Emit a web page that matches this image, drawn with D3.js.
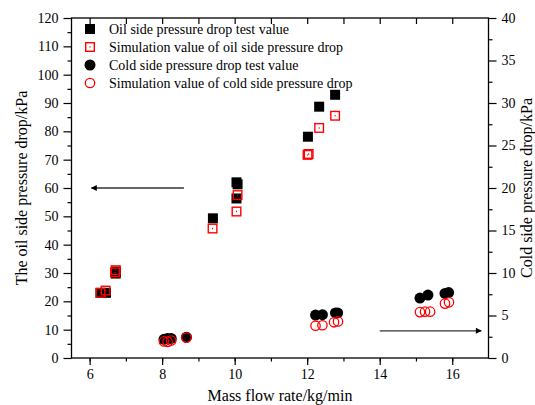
<!DOCTYPE html>
<html>
<head>
<meta charset="utf-8">
<script src="https://cdn.jsdelivr.net/npm/d3@7"></script>
<style>
  body { margin: 0; background: #fff; }
  svg text { font-family: "Liberation Serif", "Times New Roman", serif; fill: #000; }
</style>
</head>
<body>
<div id="vis"></div>
<script>
// data
var oilTestX = [6.30, 6.45, 6.72, 6.72, 9.40, 10.05, 10.08, 10.05, 12.02, 12.33, 12.77];
var oilTestY = [23.0, 23.0, 29.8, 30.5, 49.3, 62.0, 61.3, 56.3, 78.1, 88.7, 92.9];
var oilSimX = [6.30, 6.44, 6.72, 6.70, 9.39, 10.08, 10.05, 12.01, 12.04, 12.33, 12.77];
var oilSimY = [23.0, 23.8, 31.0, 30.2, 45.7, 57.5, 51.7, 71.7, 72.0, 81.2, 85.5];
var coldTestX = [8.05, 8.15, 8.25, 8.67, 12.23, 12.42, 12.78, 12.84, 15.11, 15.33, 15.80, 15.90];
var coldTestY = [2.20, 2.30, 2.30, 2.45, 5.05, 5.10, 5.30, 5.30, 7.05, 7.40, 7.60, 7.70];
var coldSimX = [8.05, 8.15, 8.25, 8.67, 12.23, 12.42, 12.74, 12.85, 15.11, 15.25, 15.39, 15.80, 15.91];
var coldSimY = [1.95, 1.90, 2.05, 2.40, 3.80, 3.85, 4.20, 4.30, 5.40, 5.45, 5.45, 6.40, 6.55];

var legendLabels = [
  'Oil side pressure drop test value',
  'Simulation value of oil side pressure drop',
  'Cold side pressure drop test value',
  'Simulation value of cold side pressure drop'
];
var xTicks = [6, 8, 10, 12, 14, 16];
var xMinorTicks = d3.range(6, 17, 1);
var yLeftTicks = d3.range(0, 121, 10);
var yLeftMinor = d3.range(5, 120, 10);
var yRightTicks = d3.range(0, 41, 5);
var yRightMinor = d3.range(2.5, 40, 5);

var width = 535, height = 405;
var margin = { top: 18, left: 71.5, bottom: 47, right: 46.5 };

var svg = d3.select('#vis').append('svg')
  .attr('width', width)
  .attr('height', height);

var x = d3.scaleLinear().domain([5.5, 17]).range([margin.left, width - margin.right]);
var yL = d3.scaleLinear().domain([0, 120]).range([height - margin.bottom, margin.top]);
var yR = d3.scaleLinear().domain([0, 40]).range([height - margin.bottom, margin.top]);

var x0 = x.range()[0], x1 = x.range()[1];
var y0 = yL.range()[0], y1 = yL.range()[1];

// axes
function styleAxis(g) {
  g.selectAll('.domain').remove();
  g.selectAll('line').attr('stroke', '#000').attr('stroke-width', 1.2);
  g.selectAll('text').attr('font-size', 14);
}

// bottom
svg.append('g').attr('transform', 'translate(0,' + y0 + ')')
  .call(d3.axisBottom(x).tickValues(xMinorTicks).tickSize(3.5).tickFormat(''))
  .call(styleAxis);
svg.append('g').attr('transform', 'translate(0,' + y0 + ')')
  .call(d3.axisBottom(x).tickValues(xTicks).tickSize(7).tickPadding(4).tickFormat(d3.format('d')))
  .call(styleAxis);
// top, inward
svg.append('g').attr('transform', 'translate(0,' + y1 + ')')
  .call(d3.axisBottom(x).tickValues(xMinorTicks).tickSize(6).tickFormat(''))
  .call(styleAxis);
// left
svg.append('g').attr('transform', 'translate(' + x0 + ',0)')
  .call(d3.axisLeft(yL).tickValues(yLeftMinor).tickSize(4).tickFormat(''))
  .call(styleAxis);
svg.append('g').attr('transform', 'translate(' + x0 + ',0)')
  .call(d3.axisLeft(yL).tickValues(yLeftTicks).tickSize(8).tickPadding(5).tickFormat(d3.format('d')))
  .call(styleAxis);
// right
svg.append('g').attr('transform', 'translate(' + x1 + ',0)')
  .call(d3.axisRight(yR).tickValues(yRightMinor).tickSize(4).tickFormat(''))
  .call(styleAxis);
svg.append('g').attr('transform', 'translate(' + x1 + ',0)')
  .call(d3.axisRight(yR).tickValues(yRightTicks).tickSize(8).tickPadding(5).tickFormat(d3.format('d')))
  .call(styleAxis);

// frame
svg.append('rect')
  .attr('x', x0).attr('y', y1)
  .attr('width', x1 - x0).attr('height', y0 - y1)
  .attr('fill', 'none').attr('stroke', '#000').attr('stroke-width', 1.3);

// axis titles
svg.append('text')
  .attr('x', (x0 + x1) / 2).attr('y', 401)
  .attr('text-anchor', 'middle').attr('font-size', 16)
  .text('Mass flow rate/kg/min');
svg.append('text')
  .attr('transform', 'translate(27,' + ((y0 + y1) / 2) + ') rotate(-90)')
  .attr('text-anchor', 'middle').attr('font-size', 16)
  .text('The oil side pressure drop/kPa');
svg.append('text')
  .attr('transform', 'translate(532,' + ((y0 + y1) / 2) + ') rotate(-90)')
  .attr('text-anchor', 'middle').attr('font-size', 16)
  .text('Cold side pressure drop/kPa');

// arrows
var defs = svg.append('defs');
defs.append('marker')
  .attr('id', 'head')
  .attr('viewBox', '0 0 10 10')
  .attr('refX', 9).attr('refY', 5)
  .attr('markerWidth', 9).attr('markerHeight', 6)
  .attr('markerUnits', 'userSpaceOnUse')
  .attr('orient', 'auto')
  .append('path').attr('d', 'M0,0 L10,5 L0,10 z').attr('fill', '#000');

svg.append('line')
  .attr('x1', x(8.6)).attr('y1', yL(60))
  .attr('x2', x(6.05)).attr('y2', yL(60))
  .attr('stroke', '#333').attr('stroke-width', 1.3)
  .attr('marker-end', 'url(#head)');
svg.append('line')
  .attr('x1', x(14.0)).attr('y1', yR(3.2))
  .attr('x2', x(16.8)).attr('y2', yR(3.2))
  .attr('stroke', '#333').attr('stroke-width', 1.3)
  .attr('marker-end', 'url(#head)');

function pairs(xs, ys) {
  return xs.map(function(d, i) { return { x: d, y: ys[i] }; });
}

var sq = 10;
// oil test: filled black squares
svg.append('g').selectAll('rect')
  .data(pairs(oilTestX, oilTestY))
  .enter().append('rect')
  .attr('x', function(d) { return x(d.x) - sq / 2; })
  .attr('y', function(d) { return yL(d.y) - sq / 2; })
  .attr('width', sq).attr('height', sq)
  .attr('fill', '#000');

// oil simulation: open red squares with a centre dot
var simSq = svg.append('g').selectAll('g')
  .data(pairs(oilSimX, oilSimY))
  .enter().append('g');
simSq.append('rect')
  .attr('x', function(d) { return x(d.x) - 4.3; })
  .attr('y', function(d) { return yL(d.y) - 4.3; })
  .attr('width', 8.6).attr('height', 8.6)
  .attr('fill', 'none').attr('stroke', '#ff0000').attr('stroke-width', 1.4);
simSq.append('circle')
  .attr('cx', function(d) { return x(d.x); })
  .attr('cy', function(d) { return yL(d.y); })
  .attr('r', 0.7).attr('fill', '#ff0000');

// cold test: filled black circles
svg.append('g').selectAll('circle')
  .data(pairs(coldTestX, coldTestY))
  .enter().append('circle')
  .attr('cx', function(d) { return x(d.x); })
  .attr('cy', function(d) { return yR(d.y); })
  .attr('r', 5.5)
  .attr('fill', '#000');

// cold simulation: open red circles
svg.append('g').selectAll('circle')
  .data(pairs(coldSimX, coldSimY))
  .enter().append('circle')
  .attr('cx', function(d) { return x(d.x); })
  .attr('cy', function(d) { return yR(d.y); })
  .attr('r', 4.7)
  .attr('fill', 'none').attr('stroke', '#ff0000').attr('stroke-width', 1.3);

// legend
var legend = svg.append('g');
var rowY = [29, 47, 65, 83];
var lx = 90;
legend.append('rect').attr('x', lx - 5).attr('y', rowY[0] - 5).attr('width', 10).attr('height', 10).attr('fill', '#000');
legend.append('rect').attr('x', lx - 4.3).attr('y', rowY[1] - 4.3).attr('width', 8.6).attr('height', 8.6)
  .attr('fill', 'none').attr('stroke', '#ff0000').attr('stroke-width', 1.4);
legend.append('circle').attr('cx', lx).attr('cy', rowY[1]).attr('r', 0.7).attr('fill', '#ff0000');
legend.append('circle').attr('cx', lx).attr('cy', rowY[2]).attr('r', 5.5).attr('fill', '#000');
legend.append('circle').attr('cx', lx).attr('cy', rowY[3]).attr('r', 4.7)
  .attr('fill', 'none').attr('stroke', '#ff0000').attr('stroke-width', 1.3);
legend.selectAll('text')
  .data(legendLabels)
  .enter().append('text')
  .attr('x', 109)
  .attr('y', function(d, i) { return rowY[i] + 4.5; })
  .attr('font-size', 14)
  .text(function(d) { return d; });
</script>
</body>
</html>
